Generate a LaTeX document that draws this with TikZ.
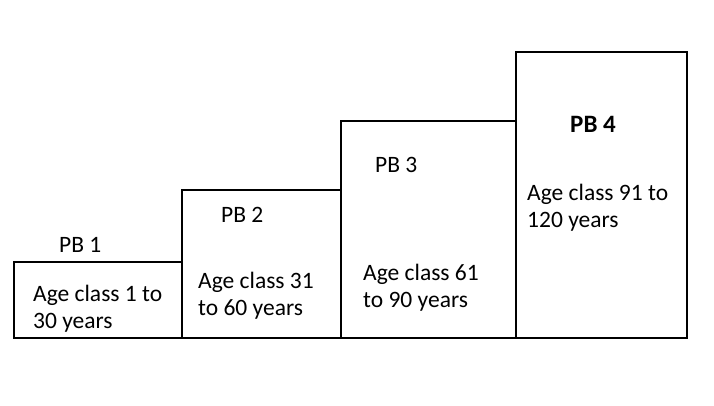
\documentclass[tikz,border=0pt]{standalone}
\usepackage{fontspec}
\setmainfont{Carlito}
\usetikzlibrary{positioning}

\begin{document}
\begin{tikzpicture}[
          x=1pt, y=-1pt,
          box/.style={rectangle, draw=black, line width=2.2pt,
                      inner sep=0pt, outer sep=0pt, anchor=south west},
          lbl/.style={font=\fontsize{23.5}{27}\selectfont, inner sep=0pt,
                      anchor=base west},
          txt/.style={font=\fontsize{23.5}{27}\selectfont, align=left,
                      anchor=base west, inner sep=0pt},
        ]
          \useasboundingbox (0,0) rectangle (714,406);

          \node[box, minimum width=168pt, minimum height=76pt]  (pb1) at (14,338) {};
          \node[box, minimum width=159pt, minimum height=148pt] (pb2) at (pb1.south east) {};
          \node[box, minimum width=175pt, minimum height=217pt] (pb3) at (pb2.south east) {};
          \node[box, minimum width=171pt, minimum height=286pt] (pb4) at (pb3.south east) {};

          % labels above / inside the blocks
          \node[lbl] (t1) at (59,252)  {PB 1};
          \node[lbl] (t2) at (221,222) {PB 2};
          \node[lbl] (t3) at (375,173) {PB 3};
          \node[lbl, font=\bfseries\fontsize{25}{28}\selectfont] (t4) at (570,133) {PB 4};

          % base anchor sits on the second line
          \node[txt] (a1) at (33,328)  {Age class 1 to\\30 years};
          \node[txt] (a2) at (198,315) {Age class 31\\to 60 years};
          \node[txt] (a3) at (363,307) {Age class 61\\to 90 years};
          \node[txt] (a4) at (527,227) {Age class 91 to\\120 years};
        \end{tikzpicture}
\end{document}
